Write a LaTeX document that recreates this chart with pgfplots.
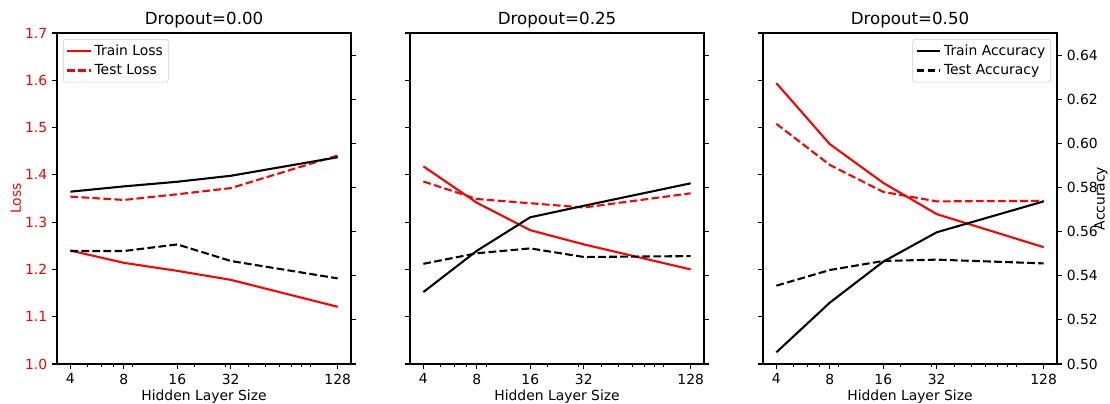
\documentclass[border=0pt]{standalone}
\usepackage{fontspec}
\setmainfont{DejaVu Sans}
\usepackage{pgfplots}
\pgfplotsset{compat=1.18}

% 1 px of the reference = 0.72pt
\pgfplotsset{
  scale only axis, width=211.7pt, height=238.3pt,
  xmin=3.364, xmax=152.2,
  xtick={4,8,16,32,128}, xticklabels={4,8,16,32,128},
  minor xtick={5,6,7,9,20,30,40,50,60,70,80,90},
  tick align=outside, major tick length=3.5pt, minor tick length=2pt,
  tick style={black, line width=0.8pt},
  minor tick style={line width=0.6pt},
  axis line style={line width=0.8pt},
  /pgf/number format/assume math mode=true,
  title style={font=\large, yshift=-6pt},
  xlabel style={yshift=3pt},
  legend cell align=left,
  legend style={draw=black!20, rounded corners=2pt, fill=white,
    fill opacity=0.8, text opacity=1, inner sep=2pt, row sep=1pt},
}
\pgfplotsset{
  lossax/.style={
    ymin=1.0, ymax=1.7,
    ytick={1.0,1.1,1.2,1.3,1.4,1.5,1.6,1.7},
    xtick pos=bottom, ytick pos=left,
    yticklabel style={/pgf/number format/fixed, /pgf/number format/fixed zerofill, /pgf/number format/precision=1},
    xlabel={Hidden Layer Size},
  },
  accax/.style={
    ymin=0.5, ymax=0.65,
    ytick={0.50,0.52,0.54,0.56,0.58,0.60,0.62,0.64},
    axis y line*=right, axis x line=none,
    yticklabel style={/pgf/number format/fixed, /pgf/number format/fixed zerofill, /pgf/number format/precision=2},
  },
}
\tikzset{
  trainloss/.style={red, line width=1.5pt},
  testloss/.style={red, line width=1.5pt, dash pattern=on 5.55pt off 2.4pt},
  trainacc/.style={black, line width=1.5pt},
  testacc/.style={black, line width=1.5pt, dash pattern=on 5.55pt off 2.4pt},
}

\begin{document}
\begin{tikzpicture}

% ---- Dropout = 0.00
\begin{semilogxaxis}[lossax, at={(0pt,0pt)}, title={Dropout=0.00},
  ylabel={Loss}, ylabel style={red}, ylabel shift=-4pt,
  yticklabel style={red},
  legend style={at={(0,1)}, anchor=north west, xshift=4.3pt, yshift=-4.3pt}]
\addplot[trainloss, mark=none] coordinates {(4,1.240) (8,1.214) (16,1.197) (32,1.178) (128,1.121)};
\addlegendentry{Train Loss}
\addplot[testloss, mark=none] coordinates {(4,1.354) (8,1.347) (16,1.359) (32,1.372) (128,1.441)};
\addlegendentry{Test Loss}
\end{semilogxaxis}
\begin{semilogxaxis}[accax, at={(0pt,0pt)}, yticklabels={}]
\addplot[trainacc, mark=none] coordinates {(4,0.5781) (8,0.5805) (16,0.5826) (32,0.5853) (128,0.5937)};
\addplot[testacc, mark=none] coordinates {(4,0.5512) (8,0.5512) (16,0.5542) (32,0.5467) (128,0.5388)};
\end{semilogxaxis}

% ---- Dropout = 0.25
\begin{semilogxaxis}[lossax, at={(254.16pt,0pt)}, title={Dropout=0.25}, yticklabels={}]
\addplot[trainloss, mark=none] coordinates {(4,1.418) (8,1.341) (16,1.283) (32,1.253) (128,1.200)};
\addplot[testloss, mark=none] coordinates {(4,1.386) (8,1.349) (16,1.340) (32,1.331) (128,1.361)};
\end{semilogxaxis}
\begin{semilogxaxis}[accax, at={(254.16pt,0pt)}, yticklabels={}]
\addplot[trainacc, mark=none] coordinates {(4,0.5326) (8,0.5513) (16,0.5665) (32,0.5717) (128,0.5819)};
\addplot[testacc, mark=none] coordinates {(4,0.5454) (8,0.5502) (16,0.5524) (32,0.5485) (128,0.5489)};
\end{semilogxaxis}

% ---- Dropout = 0.50
\begin{semilogxaxis}[lossax, at={(508.3pt,0pt)}, title={Dropout=0.50}, yticklabels={}]
\addplot[trainloss, mark=none] coordinates {(4,1.594) (8,1.465) (16,1.383) (32,1.317) (128,1.247)};
\addplot[testloss, mark=none] coordinates {(4,1.508) (8,1.421) (16,1.364) (32,1.344) (128,1.345)};
\end{semilogxaxis}
\begin{semilogxaxis}[accax, at={(508.3pt,0pt)}, ylabel={Accuracy},
  every axis y label/.style={at={(axis description cs:1.15,0.5)}, anchor=center, rotate=90},
  legend style={at={(1,1)}, anchor=north east, xshift=-4.3pt, yshift=-4.3pt}]
\addplot[trainacc, mark=none] coordinates {(4,0.5053) (8,0.5278) (16,0.5464) (32,0.5597) (128,0.5737)};
\addlegendentry{Train Accuracy}
\addplot[testacc, mark=none] coordinates {(4,0.5355) (8,0.5426) (16,0.5467) (32,0.5473) (128,0.5456)};
\addlegendentry{Test Accuracy}
\end{semilogxaxis}

\pgfresetboundingbox
\path (-41.04pt,-28.08pt) rectangle (758.16pt,262.08pt);
\end{tikzpicture}
\end{document}
